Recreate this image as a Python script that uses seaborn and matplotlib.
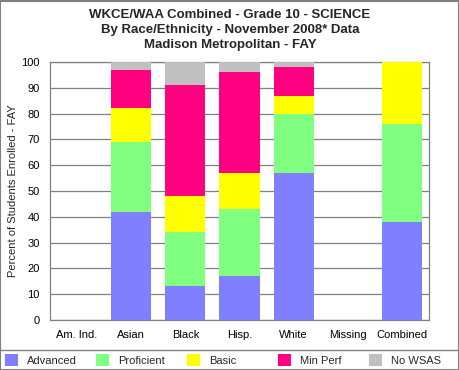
import pandas as pd
import matplotlib
matplotlib.use("Agg")
import matplotlib.pyplot as plt
from matplotlib.patches import Patch, Rectangle
from matplotlib.lines import Line2D
import seaborn as sns

sns.set_style("white")
plt.rcParams["font.family"] = ["Liberation Sans", "DejaVu Sans"]

# Donnees
groups = ["Am. Ind.", "Asian", "Black", "Hisp.", "White", "Missing", "Combined"]
levels = ["Advanced", "Proficient", "Basic", "Min Perf", "No WSAS"]
advanced = [0, 42, 13, 17, 57, 0, 38]
proficient = [0, 27, 21, 26, 23, 0, 38]
basic = [0, 13, 14, 14, 7, 0, 24]
min_perf = [0, 15, 43, 39, 11, 0, 0]
no_wsas = [0, 3, 9, 4, 2, 0, 0]
colors = ["#8080FF", "#80FF80", "#FFFF00", "#FF0080", "#C0C0C0"]

df = pd.DataFrame({"group": groups, "Advanced": advanced, "Proficient": proficient,
                   "Basic": basic, "Min Perf": min_perf, "No WSAS": no_wsas})
cum = df[levels].cumsum(axis=1)
cum["group"] = df["group"]

fig = plt.figure(figsize=(4.6, 3.7), dpi=100)
ax = fig.add_axes([50 / 460, 50 / 370, 379 / 460, 258 / 370])

# barres empilees : on trace les cumuls du haut vers le bas
for lvl, col in reversed(list(zip(levels, colors))):
    sns.barplot(data=cum, x="group", y=lvl, order=groups, color=col,
                width=0.74, saturation=1, ax=ax, zorder=3, linewidth=0)

ax.set_ylim(0, 100)
ax.set_xlim(-0.5, 6.5)
ax.set_yticks(range(0, 101, 10))
ax.yaxis.grid(True, color="#808080", linewidth=0.9, zorder=0)
ax.set_axisbelow(True)
for s in ax.spines.values():
    s.set_color("#808080")
    s.set_linewidth(0.9)
ax.tick_params(axis="both", labelsize=8, colors="#808080", labelcolor="black",
               length=4, width=0.9, direction="out")
ax.set_xlabel("")
ax.set_ylabel("Percent of Students Enrolled - FAY", fontsize=8, labelpad=2)

fig.text(0.5, 1 - 30 / 370, "WKCE/WAA Combined - Grade 10 - SCIENCE\n"
         "By Race/Ethnicity - November 2008* Data\nMadison Metropolitan - FAY",
         ha="center", va="center", fontsize=9.5, fontweight="bold", linespacing=1.3)

# legende
for i, (lvl, col) in enumerate(zip(levels, colors)):
    fig.legend(handles=[Patch(facecolor=col, edgecolor="none", label=lvl)],
               loc="center left", bbox_to_anchor=((5 + i * 91) / 460, 10 / 370),
               frameon=False, fontsize=8, handlelength=1.2, handleheight=1.2,
               handletextpad=0.8, borderaxespad=0, borderpad=0)

fig.add_artist(Line2D([0, 1], [1 - 350 / 370] * 2, color="#808080", lw=1,
                      transform=fig.transFigure))
fig.add_artist(Rectangle((0.001, 0.001), 0.997, 0.997, fill=False,
                         edgecolor="#808080", lw=1.5, transform=fig.transFigure))

fig.savefig("out.png", dpi=100)
